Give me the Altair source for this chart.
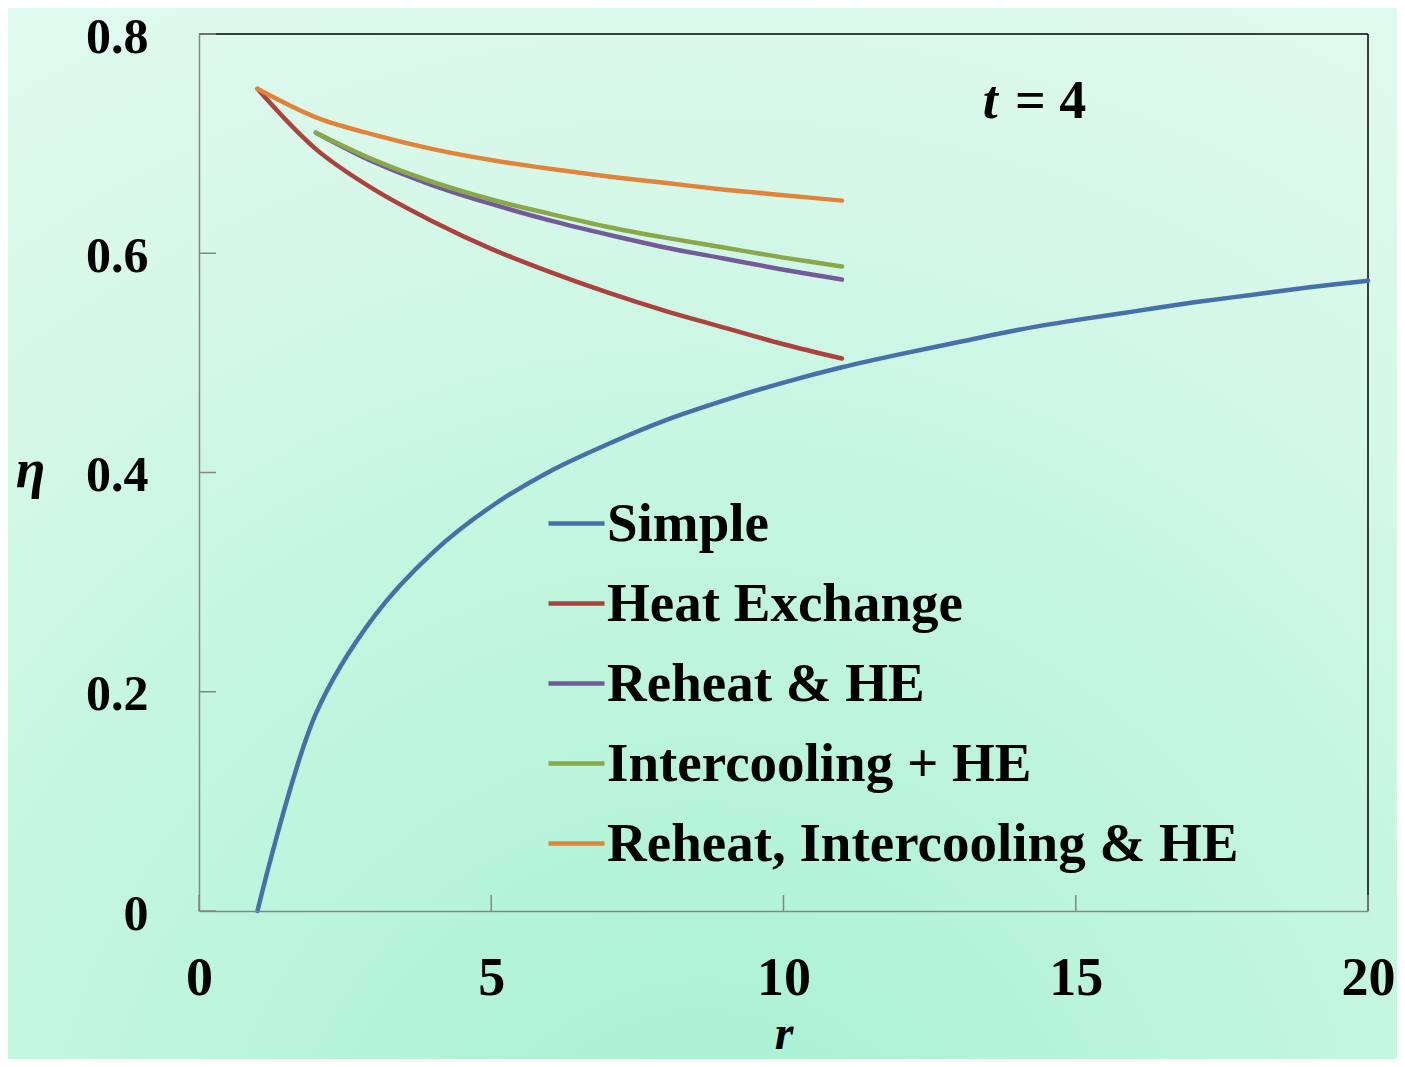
import altair as alt
import pandas as pd

# ---------------- data ----------------
series_names = ["Simple", "Heat Exchange", "Reheat & HE", "Intercooling + HE", "Reheat, Intercooling & HE"]
series_colors = ["#4570ac", "#ac423d", "#735a98", "#89a84a", "#e2833a"]

r_simple = [1, 2, 3, 4, 5, 6, 7, 8, 9, 10, 11, 12, 13, 14, 15, 16, 17, 18, 19, 20]
eta_simple = [0.0, 0.180, 0.269, 0.327, 0.369, 0.401, 0.426, 0.448, 0.466, 0.482,
              0.496, 0.508, 0.519, 0.530, 0.539, 0.547, 0.555, 0.562, 0.569, 0.575]

r_he = [1, 2, 3, 4, 5, 6, 7, 8, 9, 10, 11]
eta_he = [0.750, 0.695, 0.658, 0.629, 0.604, 0.583, 0.564, 0.547, 0.532, 0.517, 0.504]

r_reheat = [2, 3, 4, 5, 6, 7, 8, 9, 10, 11]
eta_reheat = [0.710, 0.683, 0.662, 0.645, 0.630, 0.617, 0.605, 0.595, 0.585, 0.576]

r_inter = [2, 3, 4, 5, 6, 7, 8, 9, 10, 11]
eta_inter = [0.710, 0.685, 0.665, 0.649, 0.636, 0.624, 0.614, 0.605, 0.596, 0.588]

r_all = [1, 2, 3, 4, 5, 6, 7, 8, 9, 10, 11]
eta_all = [0.750, 0.724, 0.708, 0.695, 0.685, 0.677, 0.670, 0.664, 0.658, 0.653, 0.648]

x_ticks = [0, 5, 10, 15, 20]
y_ticks = [0, 0.2, 0.4, 0.6, 0.8]

ann_t_pos = (13.41, 0.723)
ann_eq_pos = (13.96, 0.723)

# ---------------- layout ----------------
W, H = 1169, 877
PAD = {"left": 191, "top": 26, "right": 29, "bottom": 148}
FONT = "Liberation Serif"
FS = 54
LFS = 55

rows = []
for name, rs, es in zip(series_names,
                        [r_simple, r_he, r_reheat, r_inter, r_all],
                        [eta_simple, eta_he, eta_reheat, eta_inter, eta_all]):
    for r, e in zip(rs, es):
        rows.append({"series": name, "r": r, "eta": e})
df = pd.DataFrame(rows)

xscale = alt.Scale(domain=[0, 20], nice=False, zero=False)
yscale = alt.Scale(domain=[0, 0.8], nice=False)

x_axis = alt.Axis(
    values=x_ticks, tickSize=0, labelPadding=40, labelFont=FONT, labelFontSize=FS,
    labelFontWeight="bold", labelColor="black", labelFlush=False,
    domainColor="#868686", domainWidth=1.5, grid=False,
    title="r", titleFont=FONT, titleFontSize=48, titleFontWeight="bold",
    titleFontStyle="italic", titleColor="black", titleX=W / 2, titleY=147,
    titleBaseline="bottom", titleAlign="center", zindex=1,
)
y_axis = alt.Axis(
    values=y_ticks, format=".1~f", tickSize=0, labelPadding=51, labelFont=FONT,
    labelFontSize=50, labelFontWeight="bold", labelColor="black", labelFlush=False,
    labelOffset=3,
    domainColor="#868686", domainWidth=1.5, grid=False,
    title="η", titleFont=FONT, titleFontSize=FS, titleFontWeight="bold",
    titleFontStyle="italic", titleColor="black", titleAngle=0,
    titleX=-169, titleY=436, titleAlign="center", titleBaseline="middle", zindex=1,
)

X = lambda: alt.X("r:Q", scale=xscale, axis=x_axis)
Y = lambda: alt.Y("eta:Q", scale=yscale, axis=y_axis)

dummy = pd.DataFrame({"a": [0]})

gradient = {
    "gradient": "radial",
    "x1": 0.5, "y1": 1.0, "r1": 0,
    "x2": 0.5, "y2": 1.0, "r2": 1.0,
    "stops": [
        {"offset": 0.0, "color": "#a5f1d2"},
        {"offset": 0.5, "color": "#c3f6df"},
        {"offset": 0.61, "color": "#c9f7e3"},
        {"offset": 0.76, "color": "#d6f8e8"},
        {"offset": 0.91, "color": "#dcf9ec"},
        {"offset": 1.0, "color": "#e0faef"},
    ],
}

bg = alt.Chart(dummy).mark_rect(fill=gradient).encode(
    x=alt.value(-PAD["left"]), x2=alt.value(W + PAD["right"]),
    y=alt.value(-PAD["top"]), y2=alt.value(H + PAD["bottom"]),
)

frame_top = alt.Chart(dummy).mark_rule(color="black", strokeWidth=1.5).encode(
    x=alt.value(0), x2=alt.value(W), y=alt.value(0)
)
frame_right = alt.Chart(dummy).mark_rule(color="black", strokeWidth=1.5).encode(
    x=alt.value(W), y=alt.value(0), y2=alt.value(H)
)

xt = alt.Chart(pd.DataFrame({"r": x_ticks})).mark_rule(color="#868686", strokeWidth=1.5).encode(
    x=X(), y=alt.value(H), y2=alt.value(H - 16)
)
yt = alt.Chart(pd.DataFrame({"eta": y_ticks})).mark_rule(color="#868686", strokeWidth=1.5).encode(
    y=Y(), x=alt.value(0), x2=alt.value(17)
)

legend = alt.Legend(
    title=None, orient="none", legendX=347, legendY=459, symbolType="stroke",
    symbolSize=3136, symbolStrokeWidth=4.5, labelFont=FONT, labelFontSize=LFS,
    labelFontWeight="bold", labelColor="black", rowPadding=21, labelOffset=0,
    padding=0, labelLimit=0,
)

lines = alt.Chart(df).mark_line(strokeWidth=4.5, interpolate="catmull-rom", strokeCap="round").encode(
    x=X(),
    y=Y(),
    color=alt.Color("series:N", scale=alt.Scale(domain=series_names, range=series_colors),
                    legend=legend, sort=series_names),
)

ann_t = alt.Chart(pd.DataFrame({"r": [ann_t_pos[0]], "eta": [ann_t_pos[1]], "txt": ["t"]})).mark_text(
    align="left", baseline="alphabetic", font=FONT, fontSize=FS, fontWeight="bold",
    fontStyle="italic", color="black"
).encode(x=X(), y=Y(), text="txt:N")

ann_eq = alt.Chart(pd.DataFrame({"r": [ann_eq_pos[0]], "eta": [ann_eq_pos[1]], "txt": ["= 4"]})).mark_text(
    align="left", baseline="alphabetic", font=FONT, fontSize=FS, fontWeight="bold", color="black"
).encode(x=X(), y=Y(), text="txt:N")

chart = alt.layer(bg, frame_top, frame_right, xt, yt, lines, ann_t, ann_eq).properties(
    width=W, height=H,
    autosize=alt.AutoSizeParams(type="none"),
    padding=PAD,
).configure(background="#c8f7e2").configure_view(stroke=None)

chart.save("out.html", embed_options={"renderer": "svg", "actions": False})
